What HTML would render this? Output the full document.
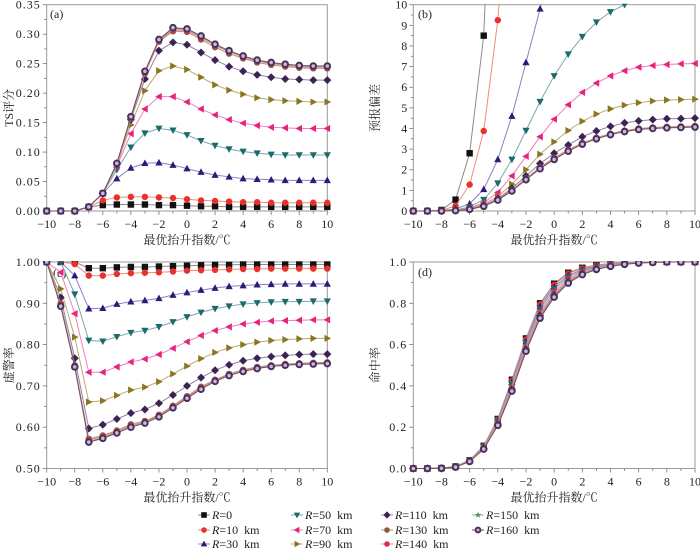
<!DOCTYPE html>
<html><head><meta charset="utf-8"><style>
html,body{margin:0;padding:0;background:#fff;}
svg{display:block;font-family:"Liberation Serif","Noto Serif CJK SC",serif;}
</style></head><body>
<svg id="chart" width="700" height="548" viewBox="0 0 700 548" xmlns="http://www.w3.org/2000/svg"></svg>
<script>
const xValues=[-10,-9,-8,-7,-6,-5,-4,-3,-2,-1,0,1,2,3,4,5,6,7,8,9,10];
const seriesNames=["R=0","R=10 km","R=30 km","R=50 km","R=70 km","R=90 km","R=110 km","R=130 km","R=140 km","R=150 km","R=160 km"];
const xTickLabels=["−10","−8","−6","−4","−2","0","2","4","6","8","10"];
const tsTickLabels=["0.00","0.05","0.10","0.15","0.20","0.25","0.30","0.35"];
const biasTickLabels=["0","1","2","3","4","5","6","7","8","9","10"];
const farTickLabels=["0.50","0.60","0.70","0.80","0.90","1.00"];
const podTickLabels=["0.0","0.2","0.4","0.6","0.8","1.0"];

const ts_R0=[0,0,0,0.007,0.010,0.011,0.011,0.011,0.010,0.010,0.009,0.008,0.008,0.007,0.007,0.007,0.007,0.007,0.007,0.007,0.007];
const ts_R10=[0,0,0,0.007,0.018,0.023,0.024,0.024,0.023,0.022,0.020,0.018,0.017,0.016,0.015,0.015,0.014,0.014,0.014,0.014,0.014];
const ts_R30=[0,0,0,0.007,0.030,0.055,0.073,0.081,0.082,0.078,0.072,0.066,0.061,0.058,0.055,0.054,0.053,0.052,0.052,0.052,0.052];
const ts_R50=[0,0,0,0.007,0.030,0.070,0.108,0.132,0.140,0.137,0.129,0.119,0.111,0.105,0.101,0.098,0.096,0.095,0.095,0.095,0.095];
const ts_R70=[0,0,0,0.007,0.030,0.076,0.131,0.173,0.194,0.194,0.185,0.173,0.163,0.155,0.149,0.145,0.142,0.141,0.140,0.140,0.140];
const ts_R90=[0,0,0,0.007,0.030,0.078,0.146,0.204,0.238,0.246,0.240,0.227,0.214,0.205,0.198,0.192,0.189,0.187,0.186,0.185,0.185];
const ts_R110=[0,0,0,0.007,0.030,0.079,0.155,0.224,0.272,0.286,0.282,0.269,0.256,0.245,0.237,0.231,0.227,0.224,0.223,0.222,0.222];
const ts_R130=[0,0,0,0.007,0.030,0.080,0.157,0.233,0.287,0.305,0.304,0.291,0.278,0.267,0.259,0.252,0.248,0.245,0.243,0.242,0.242];
const ts_R140=[0,0,0,0.007,0.030,0.080,0.158,0.235,0.289,0.307,0.306,0.294,0.281,0.270,0.261,0.254,0.250,0.247,0.245,0.244,0.244];
const ts_R150=[0,0,0,0.007,0.030,0.080,0.159,0.236,0.290,0.309,0.308,0.296,0.282,0.271,0.262,0.255,0.251,0.248,0.246,0.245,0.245];
const ts_R160=[0,0,0,0.007,0.030,0.081,0.160,0.237,0.291,0.311,0.309,0.297,0.283,0.272,0.263,0.256,0.252,0.249,0.247,0.246,0.246];

const bias_R0=[0,0,0.05,0.55,2.8,8.5,25,40,50,55,58,60,61,62,62,62,62,62,62,62,62];
const bias_R10=[0,0,0.03,0.25,1.28,3.88,9.25,18,26,32,36,38,39,40,40,40,40,40,40,40,40];
const bias_R30=[0,0,0.02,0.1,0.35,1.05,2.5,4.6,7.2,9.8,12.5,14.5,16,17,17.5,18,18,18,18,18,18];
const bias_R50=[0,0,0.01,0.05,0.2,0.55,1.35,2.5,3.9,5.3,6.55,7.6,8.45,9.15,9.65,10.0,10.3,10.5,10.6,10.7,10.7];
const bias_R70=[0,0,0.01,0.03,0.15,0.4,0.9,1.7,2.65,3.6,4.45,5.15,5.75,6.2,6.55,6.8,6.97,7.05,7.1,7.13,7.15];
const bias_R90=[0,0,0.01,0.03,0.12,0.33,0.7,1.3,2.0,2.75,3.35,3.9,4.35,4.7,4.95,5.13,5.25,5.33,5.38,5.4,5.42];
const bias_R110=[0,0,0.01,0.02,0.1,0.28,0.6,1.1,1.7,2.3,2.8,3.2,3.6,3.88,4.1,4.27,4.37,4.43,4.47,4.48,4.5];
const bias_R130=[0,0,0,0.02,0.09,0.26,0.56,1.02,1.58,2.12,2.58,2.97,3.3,3.55,3.75,3.9,4.0,4.05,4.08,4.1,4.12];
const bias_R140=[0,0,0,0.02,0.09,0.25,0.55,1.0,1.56,2.1,2.55,2.95,3.28,3.53,3.73,3.88,3.98,4.03,4.06,4.08,4.1];
const bias_R150=[0,0,0,0.02,0.08,0.24,0.54,0.98,1.54,2.07,2.52,2.92,3.26,3.52,3.72,3.86,3.96,4.01,4.04,4.06,4.08];
const bias_R160=[0,0,0,0.02,0.08,0.23,0.53,0.97,1.52,2.05,2.5,2.9,3.24,3.5,3.7,3.85,3.95,4.0,4.03,4.05,4.07];

const far_R0=[1,1,1,0.985,0.985,0.987,0.988,0.988,0.989,0.990,0.991,0.992,0.993,0.993,0.994,0.994,0.994,0.994,0.994,0.994,0.994];
const far_R10=[1,1,0.995,0.967,0.967,0.971,0.973,0.974,0.975,0.977,0.979,0.980,0.981,0.982,0.983,0.983,0.984,0.984,0.984,0.984,0.984];
const far_R30=[1,1,0.967,0.887,0.888,0.898,0.904,0.907,0.912,0.920,0.926,0.932,0.937,0.941,0.943,0.945,0.946,0.947,0.947,0.947,0.947];
const far_R50=[1,1,0.922,0.810,0.808,0.819,0.829,0.834,0.843,0.855,0.867,0.878,0.887,0.893,0.898,0.901,0.903,0.904,0.904,0.905,0.905];
const far_R70=[1,0.975,0.875,0.733,0.733,0.746,0.758,0.765,0.776,0.791,0.807,0.822,0.834,0.843,0.850,0.854,0.857,0.858,0.859,0.860,0.860];
const far_R90=[1,0.935,0.818,0.661,0.664,0.677,0.690,0.697,0.710,0.729,0.748,0.766,0.781,0.792,0.800,0.806,0.810,0.812,0.814,0.815,0.815];
const far_R110=[1,0.914,0.767,0.597,0.606,0.620,0.634,0.643,0.658,0.678,0.700,0.720,0.738,0.751,0.761,0.767,0.771,0.774,0.776,0.777,0.777];
const far_R130=[1,0.900,0.750,0.572,0.580,0.592,0.607,0.615,0.630,0.652,0.675,0.698,0.715,0.729,0.739,0.746,0.750,0.753,0.755,0.756,0.757];
const far_R140=[1,0.897,0.748,0.569,0.577,0.590,0.604,0.613,0.628,0.650,0.673,0.695,0.713,0.727,0.737,0.744,0.749,0.752,0.754,0.755,0.756];
const far_R150=[1,0.895,0.747,0.566,0.575,0.588,0.602,0.611,0.626,0.648,0.671,0.693,0.712,0.726,0.736,0.743,0.748,0.751,0.753,0.754,0.755];
const far_R160=[1,0.893,0.746,0.564,0.573,0.586,0.600,0.610,0.625,0.647,0.670,0.692,0.711,0.725,0.735,0.742,0.747,0.750,0.752,0.753,0.754];

const pod_R0=[0,0,0.002,0.010,0.040,0.110,0.240,0.430,0.630,0.800,0.895,0.948,0.972,0.985,0.993,0.997,0.999,1,1,1,1];
const pod_R10=[0,0,0.002,0.010,0.040,0.108,0.237,0.425,0.625,0.795,0.890,0.944,0.969,0.983,0.992,0.996,0.999,1,1,1,1];
const pod_R30=[0,0,0.002,0.009,0.039,0.105,0.232,0.418,0.615,0.785,0.880,0.935,0.963,0.980,0.990,0.995,0.998,1,1,1,1];
const pod_R50=[0,0,0.002,0.009,0.038,0.103,0.228,0.410,0.605,0.772,0.870,0.927,0.958,0.977,0.988,0.994,0.998,0.999,1,1,1];
const pod_R70=[0,0,0.001,0.008,0.037,0.100,0.222,0.400,0.595,0.760,0.858,0.918,0.952,0.973,0.986,0.993,0.997,0.999,1,1,1];
const pod_R90=[0,0,0.001,0.008,0.036,0.098,0.217,0.390,0.585,0.748,0.848,0.911,0.947,0.970,0.984,0.992,0.997,0.999,1,1,1];
const pod_R110=[0,0,0.001,0.008,0.035,0.097,0.214,0.383,0.577,0.740,0.840,0.905,0.944,0.968,0.982,0.991,0.996,0.998,1,1,1];
const pod_R130=[0,0,0.001,0.007,0.035,0.096,0.212,0.378,0.572,0.733,0.835,0.902,0.942,0.966,0.981,0.990,0.996,0.998,1,1,1];
const pod_R140=[0,0,0.001,0.007,0.034,0.095,0.211,0.377,0.570,0.731,0.833,0.900,0.941,0.965,0.980,0.990,0.995,0.998,1,1,1];
const pod_R150=[0,0,0.001,0.007,0.034,0.095,0.210,0.376,0.569,0.730,0.831,0.899,0.940,0.965,0.980,0.989,0.995,0.998,1,1,1];
const pod_R160=[0,0,0.001,0.007,0.034,0.094,0.209,0.375,0.568,0.728,0.830,0.898,0.939,0.964,0.979,0.989,0.995,0.998,1,1,1];

const NS="http://www.w3.org/2000/svg";
const svg=document.getElementById('chart');
function mk(tag,attrs,parent){const e=document.createElementNS(NS,tag);for(const k in attrs)e.setAttribute(k,attrs[k]);(parent||svg).appendChild(e);return e;}

const styles=[
 {m:'square',fill:'#111',line:'#8a8a8a'},
 {m:'circle',fill:'#e8312a',line:'#f08a80'},
 {m:'up',fill:'#2e1a78',line:'#8a80c0'},
 {m:'down',fill:'#1a6b6b',line:'#7aa8a8'},
 {m:'left',fill:'#e8237f',line:'#f080b8'},
 {m:'right',fill:'#8a7520',line:'#c0a870'},
 {m:'diamond',fill:'#3b2454',line:'#9080a8'},
 {m:'hex',fill:'#8b5a3c',line:'#c09080'},
 {m:'circle',fill:'#d9304a',line:'#e88090'},
 {m:'star',fill:'#5a8a5a',line:'#90b890'},
 {m:'ring',fill:'#4a2e5e',line:'#7a4a5e'}
];

function marker(g,type,x,y,fill,s){
 s=s||3.2;let e;
 if(type==='square')e=mk('rect',{x:x-s,y:y-s,width:2*s,height:2*s,fill:fill},g);
 else if(type==='circle'||type==='hex')e=mk('circle',{cx:x,cy:y,r:s,fill:fill},g);
 else if(type==='ring'){e=mk('circle',{cx:x,cy:y,r:s-0.4,fill:'#c8bcd4',stroke:fill,'stroke-width':2},g);}
 else if(type==='up')e=mk('polygon',{points:`${x},${y-s-0.6} ${x+s+0.4},${y+s-0.4} ${x-s-0.4},${y+s-0.4}`,fill:fill},g);
 else if(type==='down')e=mk('polygon',{points:`${x},${y+s+0.6} ${x+s+0.4},${y-s+0.4} ${x-s-0.4},${y-s+0.4}`,fill:fill},g);
 else if(type==='left')e=mk('polygon',{points:`${x-s-0.6},${y} ${x+s-0.4},${y-s-0.4} ${x+s-0.4},${y+s+0.4}`,fill:fill},g);
 else if(type==='right')e=mk('polygon',{points:`${x+s+0.6},${y} ${x-s+0.4},${y-s-0.4} ${x-s+0.4},${y+s+0.4}`,fill:fill},g);
 else if(type==='diamond')e=mk('polygon',{points:`${x},${y-s-0.8} ${x+s+0.8},${y} ${x},${y+s+0.8} ${x-s-0.8},${y}`,fill:fill},g);
 else if(type==='star'){let p=[];for(let i=0;i<10;i++){const r=i%2?s*0.5:s+0.6;const a=-Math.PI/2+i*Math.PI/5;p.push((x+r*Math.cos(a)).toFixed(2)+','+(y+r*Math.sin(a)).toFixed(2));}e=mk('polygon',{points:p.join(' '),fill:fill},g);}
 return e;
}

function panel(cfg){
 const g=mk('g',{});
 
 
 const X=v=>cfg.x0+(v-(-10))/20*(cfg.x1-cfg.x0);
 const Y=v=>cfg.y0-(v-cfg.ymin)/(cfg.ymax-cfg.ymin)*(cfg.y0-cfg.y1);
 const cid='clip-'+cfg.name;
 const cp=mk('clipPath',{id:cid},g);mk('rect',{x:cfg.x0-6,y:cfg.y1-1,width:cfg.x1-cfg.x0+12,height:cfg.y0-cfg.y1+8},cp);
 const fr=mk('rect',{x:cfg.x0,y:cfg.y1,width:cfg.x1-cfg.x0,height:cfg.y0-cfg.y1,fill:'none',stroke:'#9a9a9a','stroke-width':1},g);
 
 for(let v=-10;v<=10;v++){const major=v%2===0;mk('line',{x1:X(v),x2:X(v),y1:cfg.y0,y2:cfg.y0+(major?4:2.5),stroke:'#777','stroke-width':0.8},g);}
 xTickLabels.forEach((t,i)=>{const tx=mk('text',{x:X(-10+2*i),y:cfg.y0+17,'text-anchor':'middle','font-size':12,fill:'#222'},g);tx.textContent=t;
  });
 const nt=cfg.ticks.length;
 for(let i=0;i<nt;i++){const v=cfg.ymin+i*(cfg.ymax-cfg.ymin)/(nt-1);
  mk('line',{x1:cfg.x0-4,x2:cfg.x0,y1:Y(v),y2:Y(v),stroke:'#777','stroke-width':0.8},g);
  if(i<nt-1){const vm=v+(cfg.ymax-cfg.ymin)/(nt-1)/2;mk('line',{x1:cfg.x0-2.5,x2:cfg.x0,y1:Y(vm),y2:Y(vm),stroke:'#777','stroke-width':0.8},g);}
  const tx=mk('text',{x:cfg.x0-6,y:Y(v)+4,'text-anchor':'end','font-size':12,fill:'#222','letter-spacing':cfg.ls||0},g);tx.textContent=cfg.ticks[i];
  }
 const xt=mk('text',{x:(cfg.x0+cfg.x1)/2,y:cfg.y0+33,'text-anchor':'middle','font-size':12,fill:'#222'},g);xt.textContent='最优抬升指数/℃';
 
 const yt=mk('text',{x:0,y:0,'text-anchor':'middle','font-size':12,fill:'#222',transform:`translate(${cfg.ytx},${(cfg.y0+cfg.y1)/2}) rotate(-90)`},g);yt.textContent=cfg.ytitle;
 
 const pl=mk('text',{x:cfg.lx,y:cfg.ly,'font-size':12,fill:'#222'},g);pl.textContent=cfg.label;
 
 const data=mk('g',{'clip-path':`url(#${cid})`},g);
 cfg.series.forEach((arr,si)=>{
  const st=styles[si];
  const sg=mk('g',{},data);
  
  
  const pts=arr.map((v,i)=>X(xValues[i]).toFixed(2)+','+Y(v).toFixed(2)).join(' ');
  const ln=mk('polyline',{points:pts,fill:'none',stroke:st.line,'stroke-width':1},sg);
  
  arr.forEach((v,i)=>{if(v>cfg.ymax+0.001)return;const m=marker(sg,st.m,X(xValues[i]),Y(v),st.fill);
   });
 });
}

panel({name:'panel-a-ts',x0:46.7,x1:327.3,y0:211,y1:4.7,ymin:0,ymax:0.35,ticks:tsTickLabels,ls:1,ytx:13,ytitle:'TS评分',label:'(a)',lx:50,ly:18,
 series:[ts_R0,ts_R10,ts_R30,ts_R50,ts_R70,ts_R90,ts_R110,ts_R130,ts_R140,ts_R150,ts_R160]});
panel({name:'panel-b-bias',x0:413.3,x1:695,y0:211,y1:4.7,ymin:0,ymax:10,ticks:biasTickLabels,ytx:379,ytitle:'预报偏差',label:'(b)',lx:418,ly:18,
 series:[bias_R0,bias_R10,bias_R30,bias_R50,bias_R70,bias_R90,bias_R110,bias_R130,bias_R140,bias_R150,bias_R160]});
panel({name:'panel-c-far',x0:46.7,x1:327.3,y0:468.5,y1:262,ymin:0.5,ymax:1.0,ticks:farTickLabels,ls:1,ytx:13,ytitle:'虚警率',label:'(c)',lx:53,ly:277,
 series:[far_R0,far_R10,far_R30,far_R50,far_R70,far_R90,far_R110,far_R130,far_R140,far_R150,far_R160]});
panel({name:'panel-d-pod',x0:413.3,x1:695,y0:468.5,y1:262,ymin:0,ymax:1.0,ticks:podTickLabels,ls:1,ytx:379,ytitle:'命中率',label:'(d)',lx:418,ly:276,
 series:[pod_R0,pod_R10,pod_R30,pod_R50,pod_R70,pod_R90,pod_R110,pod_R130,pod_R140,pod_R150,pod_R160]});

const lg=mk('g',{});


const colX=[202,295,385,476];const rowY=[515,530,544];
seriesNames.forEach((nm,i)=>{
 const c=Math.floor(i/3),r=i%3;const x=colX[c],y=rowY[r];const st=styles[i];
 const e=mk('g',{},lg);
 
 
 mk('line',{x1:x-4,x2:x+8,y1:y,y2:y,stroke:st.line,'stroke-width':1},e);
 marker(e,st.m,x+2,y,st.fill,2.8);
 const t=mk('text',{x:x+10,y:y+4,'font-size':12,fill:'#222'},e);
 const parts=nm.split('=');
 const it=mk('tspan',{'font-style':'italic'},t);it.textContent='R';
 const rest=mk('tspan',{},t);rest.textContent='='+parts[1].replace(' km','\u00a0\u00a0km');
});
</script>
</body></html>
